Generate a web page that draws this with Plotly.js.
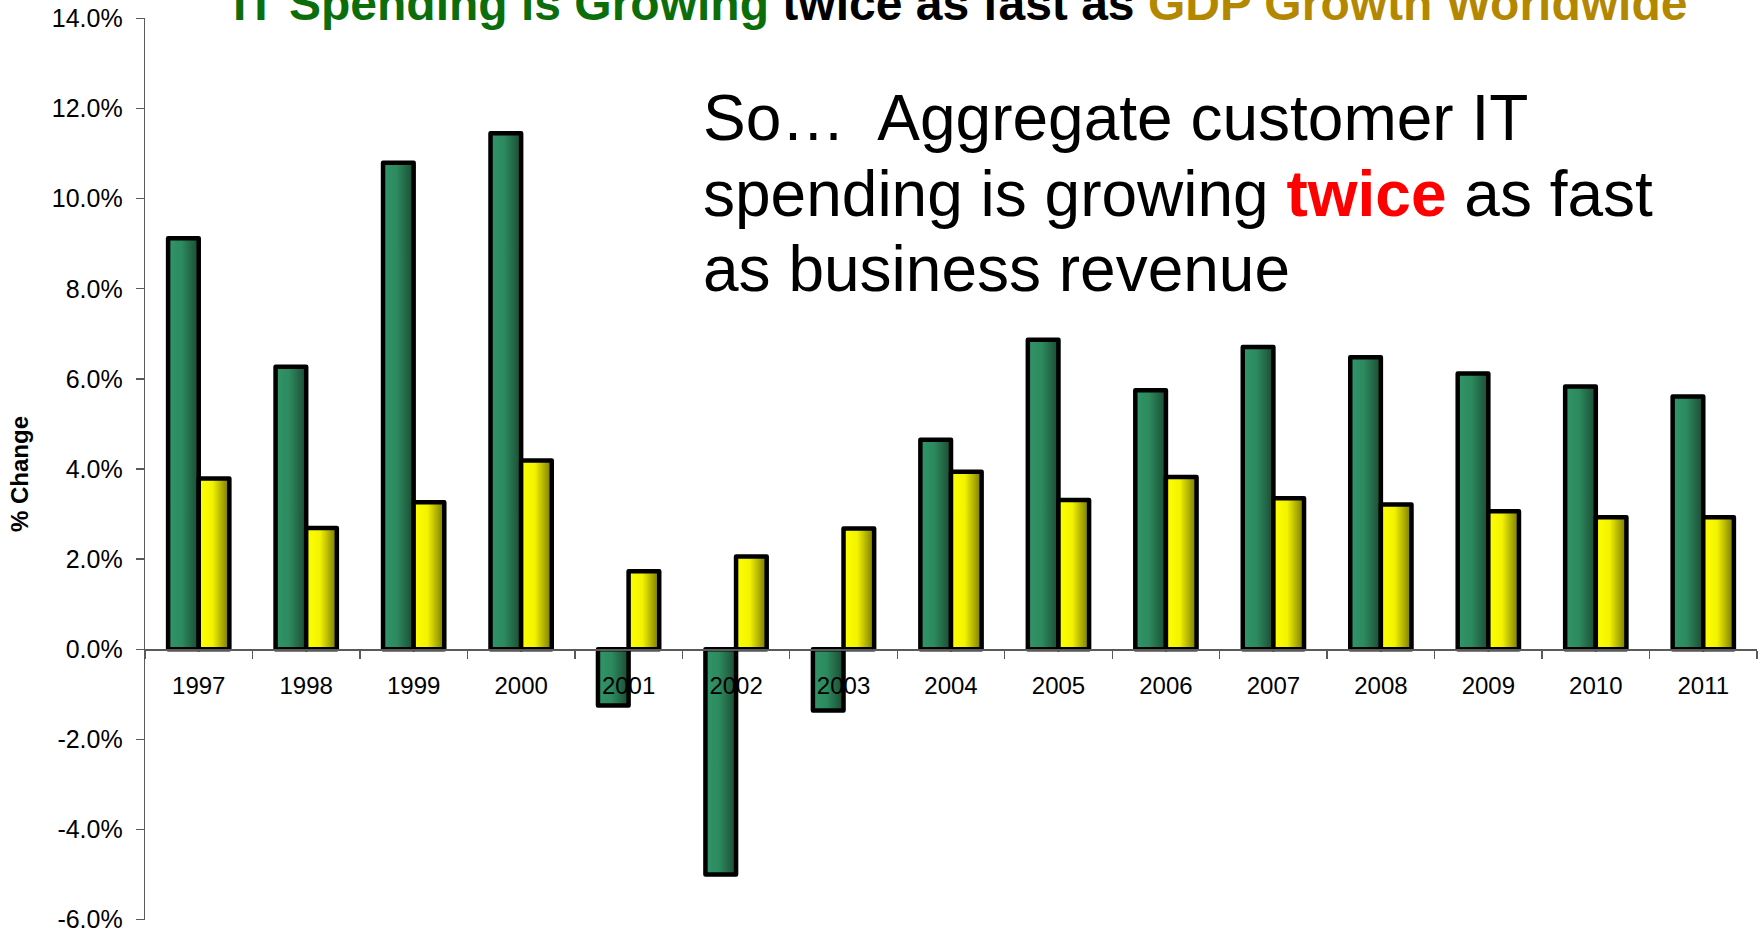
<!DOCTYPE html>
<html>
<head>
<meta charset="utf-8">
<script src="https://cdn.plot.ly/plotly-3.0.1.min.js"></script>
<style>
  html, body { margin: 0; padding: 0; background: #fff; }
  #chart { width: 1761px; height: 931px; }
</style>
</head>
<body>
<div id="chart"></div>
<script>
const years = ['1997','1998','1999','2000','2001','2002','2003','2004','2005','2006','2007','2008','2009','2010','2011'];
const itSpending = [9.12, 6.27, 10.80, 11.45, -1.25, -5.00, -1.36, 4.65, 6.87, 5.75, 6.71, 6.48, 6.12, 5.83, 5.61];
const gdpGrowth  = [3.79, 2.69, 3.26, 4.19, 1.73, 2.06, 2.68, 3.94, 3.31, 3.82, 3.35, 3.21, 3.06, 2.93, 2.93];
const yTickVals  = [-6, -4, -2, 0, 2, 4, 6, 8, 10, 12, 14];
const yTickText  = ['-6.0%', '-4.0%', '-2.0%', '0.0%', '2.0%', '4.0%', '6.0%', '8.0%', '10.0%', '12.0%', '14.0%'];

const FONT = '"Liberation Sans", Arial, sans-serif';

const traces = [
  {
    type: 'bar', name: 'IT Spending', x: years, y: itSpending,
    marker: { color: '#2b8a5c', line: { color: '#000', width: 4.5 } },
    hoverinfo: 'x+y'
  },
  {
    type: 'bar', name: 'GDP Growth', x: years, y: gdpGrowth,
    marker: { color: '#f0f000', line: { color: '#000', width: 4.5 } },
    hoverinfo: 'x+y'
  }
];

const layout = {
  width: 1761, height: 931,
  paper_bgcolor: '#fff', plot_bgcolor: '#fff',
  margin: { l: 145, r: 4, t: 18, b: 11, pad: 0 },
  barmode: 'group', bargap: 0.43, bargroupgap: 0,
  showlegend: false,
  font: { family: FONT, color: '#000' },
  xaxis: {
    type: 'category',
    anchor: 'free', position: 0.3,
    showline: true, linecolor: '#5a5a5a', linewidth: 1.3,
    ticks: 'outside', ticklen: 8, tickcolor: '#5a5a5a', tickwidth: 1.3,
    tickson: 'boundaries',
    ticklabelstandoff: 14,
    tickfont: { family: FONT, size: 24, color: '#000' },
    showgrid: false, zeroline: false, fixedrange: true
  },
  yaxis: {
    range: [-6.01, 14.01], autorange: false,
    tickmode: 'array', tickvals: yTickVals, ticktext: yTickText,
    ticklabeloverflow: 'allow',
    showline: true, linecolor: '#5a5a5a', linewidth: 1.3,
    ticks: 'outside', ticklen: 8, tickcolor: '#5a5a5a', tickwidth: 1.3,
    ticklabelstandoff: 8,
    tickfont: { family: FONT, size: 25, color: '#000' },
    showgrid: false, zeroline: false, fixedrange: true
  },
  annotations: [
    {
      xref: 'paper', yref: 'paper', x: 0.5056, y: 1.0166,
      xanchor: 'center', yanchor: 'middle', showarrow: false,
      text: '<b><span style="color:#0b6e0b">IT Spending is Growing</span> twice as fast as <span style="color:#b38800">GDP Growth Worldwide</span></b>',
      font: { family: FONT, size: 48, color: '#000' }
    },
    {
      xref: 'paper', yref: 'paper', x: 0.3447, y: 0.8887,
      xanchor: 'left', yanchor: 'middle', showarrow: false, align: 'left',
      text: 'So…  Aggregate customer IT',
      font: { family: FONT, size: 64, color: '#000' }
    },
    {
      xref: 'paper', yref: 'paper', x: 0.3447, y: 0.8044,
      xanchor: 'left', yanchor: 'middle', showarrow: false, align: 'left',
      text: 'spending is growing <b><span style="color:#ff0000">twice</span></b> as fast',
      font: { family: FONT, size: 64, color: '#000' }
    },
    {
      xref: 'paper', yref: 'paper', x: 0.3447, y: 0.7213,
      xanchor: 'left', yanchor: 'middle', showarrow: false, align: 'left',
      text: 'as business revenue',
      font: { family: FONT, size: 64, color: '#000' }
    },
    {
      xref: 'paper', yref: 'paper', x: -0.0775, y: 0.4945,
      xanchor: 'center', yanchor: 'middle', showarrow: false,
      textangle: -90,
      text: '<b>% Change</b>',
      font: { family: FONT, size: 24, color: '#000' }
    }
  ]
};

function addGradients(gd) {
  const svg = gd.querySelector('svg.main-svg');
  if (!svg) return;
  const NS = 'http://www.w3.org/2000/svg';
  let defs = svg.querySelector('defs');
  if (!defs) { defs = document.createElementNS(NS, 'defs'); svg.insertBefore(defs, svg.firstChild); }
  const grads = [
    { id: 'gradGreen', stops: [[0, '#31956a'], [0.45, '#2c8a5e'], [1, '#1b4a33']] },
    { id: 'gradYellow', stops: [[0, '#ffff00'], [0.45, '#f3f300'], [1, '#767600']] }
  ];
  grads.forEach(g => {
    const lg = document.createElementNS(NS, 'linearGradient');
    lg.setAttribute('id', g.id);
    lg.setAttribute('x1', '0'); lg.setAttribute('y1', '0');
    lg.setAttribute('x2', '1'); lg.setAttribute('y2', '0');
    g.stops.forEach(s => {
      const st = document.createElementNS(NS, 'stop');
      st.setAttribute('offset', s[0]);
      st.setAttribute('stop-color', s[1]);
      lg.appendChild(st);
    });
    defs.appendChild(lg);
  });
  const traceGroups = gd.querySelectorAll('.barlayer .trace');
  traceGroups.forEach((tg, i) => {
    const id = i === 0 ? 'gradGreen' : 'gradYellow';
    tg.querySelectorAll('path').forEach(p => { p.style.fill = 'url(#' + id + ')'; p.style.strokeLinejoin = 'round'; });
  });
}

Plotly.newPlot('chart', traces, layout, { displayModeBar: false, staticPlot: true })
  .then(addGradients);
</script>
</body>
</html>
